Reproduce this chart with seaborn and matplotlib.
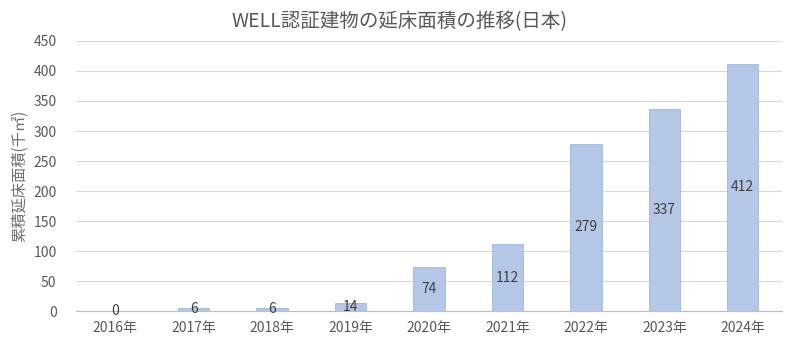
import matplotlib
matplotlib.use("Agg")
import matplotlib.pyplot as plt
import seaborn as sns
import pandas as pd
import numpy as np
from matplotlib.ticker import FixedLocator

years = ["2016年", "2017年", "2018年", "2019年", "2020年", "2021年", "2022年", "2023年", "2024年"]
values = [0, 6, 6, 14, 74, 112, 279, 337, 412]
title = "WELL認証建物の延床面積の推移(日本)"
ylabel = "累積延床面積(千㎡)"

sns.set_theme(style="white")
plt.rcParams['font.family'] = ['Noto Sans CJK JP', 'DejaVu Sans']

df = pd.DataFrame({"year": years, "value": values})
fig = plt.figure(figsize=(8, 3.56), dpi=100)
ax = fig.add_axes([0.095, 0.126, 0.8825, 0.759])
sns.barplot(data=df, x="year", y="value", color="#B4C7E7", width=0.4,
            edgecolor="#9FB6E0", linewidth=0.6, saturation=1, ax=ax, zorder=2)

txt = "#595959"
for i, v in enumerate(values):
    ax.text(i, v / 2, str(v), ha="center", va="center", fontsize=10, color="#404040", zorder=3)

ax.set_ylim(0, 450)
ax.set_xlim(-0.5, len(years) - 0.5)
ax.set_yticks(range(0, 451, 50))
ax.yaxis.grid(True, color="#D9D9D9", linewidth=0.8, zorder=0)
ax.set_axisbelow(True)
for s in ["top", "right", "left"]:
    ax.spines[s].set_visible(False)
ax.spines["bottom"].set_color("#BFBFBF")
ax.spines["bottom"].set_linewidth(0.8)
ax.tick_params(axis="y", length=0, labelsize=10, colors=txt, pad=14)
ax.tick_params(axis="x", which="major", length=0, labelsize=10, colors=txt, pad=7)
ax.xaxis.set_minor_locator(FixedLocator(np.arange(-0.5, len(years), 1.0)))
ax.tick_params(axis="x", which="minor", length=4, color="#BFBFBF", width=0.8, direction="out")
ax.set_xlabel("")
ax.set_ylabel(ylabel, fontsize=11, color="#6f6f6f", labelpad=4)
fig.text(0.5, 0.94, title, ha="center", va="center", fontsize=14, color=txt)

fig.savefig("out.png", dpi=100)
